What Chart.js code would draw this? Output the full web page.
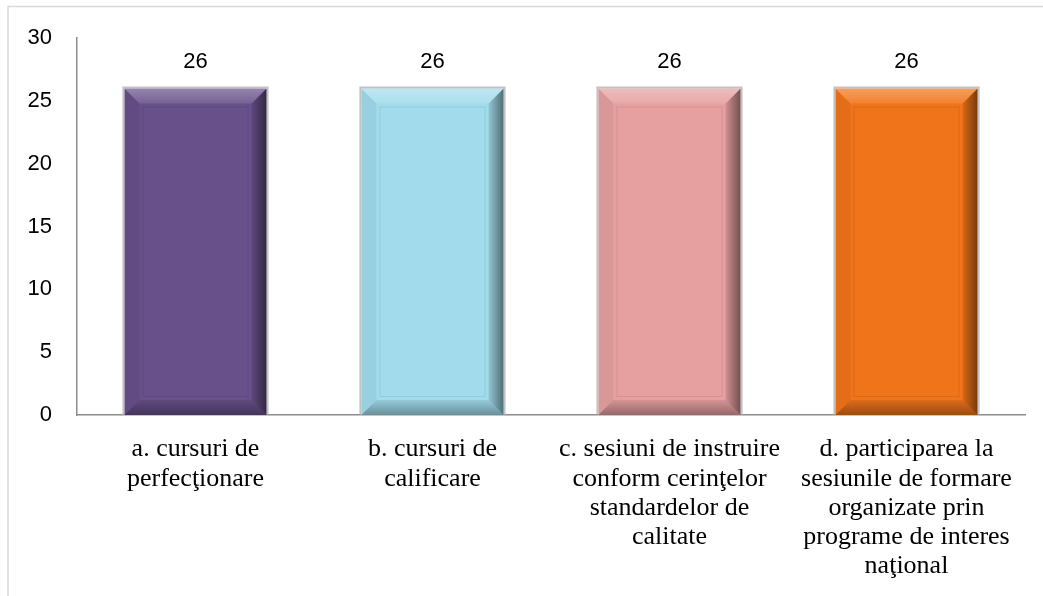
<!DOCTYPE html>
<html>
<head>
<meta charset="utf-8">
<script src="https://cdn.jsdelivr.net/npm/chart.js@4/dist/chart.umd.min.js"></script>
<style>
  html, body { margin: 0; padding: 0; background: #fff; }
  #wrap { position: relative; width: 1043px; height: 596px; }
</style>
</head>
<body>
<div id="wrap"><canvas id="chart"></canvas></div>
<script>
// Categories (already wrapped the way the original shows them)
const categories = [
  ['a. cursuri de', 'perfecţionare'],
  ['b. cursuri de', 'calificare'],
  ['c. sesiuni de instruire', 'conform cerinţelor', 'standardelor de', 'calitate'],
  ['d. participarea la', 'sesiunile de formare', 'organizate prin', 'programe de interes', 'naţional']
];
const values = [26, 26, 26, 26];
const yTicks = [0, 5, 10, 15, 20, 25, 30];

const barColors = ['#68508a', '#a2dcec', '#e6a0a0', '#f07419'];

// frame line on the left and top, like the Word chart box
const framePlugin = {
  id: 'frame',
  beforeDraw(chart) {
    const ctx = chart.ctx;
    ctx.save();
    ctx.strokeStyle = '#d9d9d9';
    ctx.lineWidth = 1.5;
    ctx.beginPath();
    ctx.moveTo(8, chart.height);
    ctx.lineTo(8, 6.5);
    ctx.lineTo(chart.width, 6.5);
    ctx.stroke();
    ctx.restore();
  }
};

// beveled look + value labels on top of the bars
const bevelPlugin = {
  id: 'bevel',
  afterDatasetsDraw(chart) {
    const ctx = chart.ctx;
    const meta = chart.getDatasetMeta(0);
    meta.data.forEach((bar, i) => {
      const L = bar.x - bar.width / 2;
      const R = bar.x + bar.width / 2;
      const T = bar.y;
      const B = bar.base;
      const b = 15;
      ctx.save();

      // top
      const gt = ctx.createLinearGradient(0, T, 0, T + b);
      gt.addColorStop(0, 'rgba(255,255,255,0.30)');
      gt.addColorStop(1, 'rgba(255,255,255,0.10)');
      ctx.fillStyle = gt;
      ctx.beginPath();
      ctx.moveTo(L, T); ctx.lineTo(R, T); ctx.lineTo(R - b, T + b); ctx.lineTo(L + b, T + b);
      ctx.closePath(); ctx.fill();

      // left
      ctx.fillStyle = 'rgba(0,0,0,0.05)';
      ctx.beginPath();
      ctx.moveTo(L, T); ctx.lineTo(L + b, T + b); ctx.lineTo(L + b, B - b); ctx.lineTo(L, B);
      ctx.closePath(); ctx.fill();

      // right
      const gr = ctx.createLinearGradient(R - b, 0, R, 0);
      gr.addColorStop(0, 'rgba(0,0,0,0.10)');
      gr.addColorStop(1, 'rgba(0,0,0,0.50)');
      ctx.fillStyle = gr;
      ctx.beginPath();
      ctx.moveTo(R, T); ctx.lineTo(R, B); ctx.lineTo(R - b, B - b); ctx.lineTo(R - b, T + b);
      ctx.closePath(); ctx.fill();

      // bottom
      const gb = ctx.createLinearGradient(0, B - b, 0, B);
      gb.addColorStop(0, 'rgba(0,0,0,0.08)');
      gb.addColorStop(1, 'rgba(0,0,0,0.35)');
      ctx.fillStyle = gb;
      ctx.beginPath();
      ctx.moveTo(L, B); ctx.lineTo(R, B); ctx.lineTo(R - b, B - b); ctx.lineTo(L + b, B - b);
      ctx.closePath(); ctx.fill();

      // faint inner panel edge
      ctx.strokeStyle = 'rgba(0,0,0,0.08)';
      ctx.lineWidth = 1;
      ctx.strokeRect(L + b + 3.5, T + b + 3.5, (R - L) - 2 * b - 7, (B - T) - 2 * b - 7);

      // light gray rim on the outside
      ctx.strokeStyle = 'rgba(175,175,175,0.75)';
      ctx.lineWidth = 2;
      ctx.beginPath();
      ctx.moveTo(L - 1, B); ctx.lineTo(L - 1, T - 1); ctx.lineTo(R + 1, T - 1); ctx.lineTo(R + 1, B);
      ctx.stroke();

      // value label
      ctx.fillStyle = '#000';
      ctx.font = '22px "Liberation Sans", Arial, sans-serif';
      ctx.textAlign = 'center';
      ctx.textBaseline = 'middle';
      ctx.fillText(String(values[i]), bar.x, T - 27);
      ctx.restore();
    });
  }
};

new Chart(document.getElementById('chart'), {
  type: 'bar',
  data: {
    labels: categories,
    datasets: [{
      data: values,
      backgroundColor: barColors,
      borderWidth: 0,
      barPercentage: 0.6,
      categoryPercentage: 1.0
    }]
  },
  options: {
    responsive: true,
    maintainAspectRatio: false,
    animation: false,
    events: [],
    layout: { padding: { top: 36, right: 18, left: 0, bottom: 0 } },
    plugins: {
      legend: { display: false },
      tooltip: { enabled: false }
    },
    scales: {
      x: {
        grid: { display: false, drawTicks: false },
        border: { display: true, color: '#8c8c8c', width: 1.5 },
        ticks: {
          color: '#000',
          padding: 20,
          maxRotation: 0,
          autoSkip: false,
          font: { family: '"Liberation Serif", "Times New Roman", serif', size: 26, lineHeight: 1.12 }
        },
        afterFit(scale) { scale.height = 181; }
      },
      y: {
        min: 0,
        max: 30,
        afterBuildTicks(scale) { scale.ticks = yTicks.map(v => ({ value: v })); },
        grid: { display: false, drawTicks: false },
        border: { display: true, color: '#8c8c8c', width: 1.5 },
        ticks: {
          color: '#000',
          padding: 25,
          font: { family: '"Liberation Sans", Arial, sans-serif', size: 22 }
        },
        afterFit(scale) { scale.width = 77; }
      }
    }
  },
  plugins: [framePlugin, bevelPlugin]
});
</script>
</body>
</html>
